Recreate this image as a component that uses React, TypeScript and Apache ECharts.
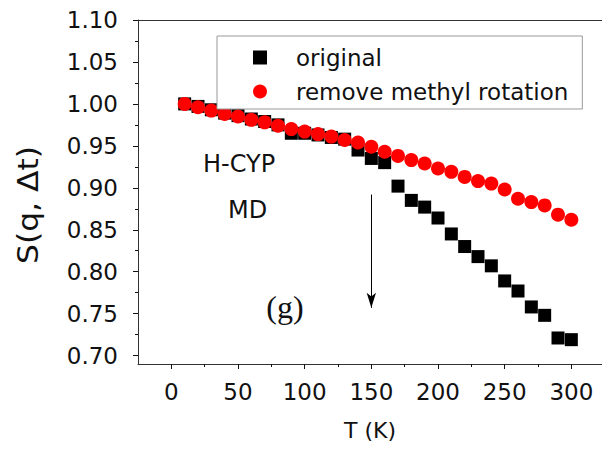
import React, { useEffect, useRef } from "react";
import * as echarts from "echarts";

const temperatures = [10, 20, 30, 40, 50, 60, 70, 80, 90, 100, 110, 120, 130, 140, 150, 160, 170, 180, 190, 200, 210, 220, 230, 240, 250, 260, 270, 280, 290, 300];
const originalValues = [1.0, 0.997, 0.993, 0.989, 0.986, 0.982, 0.979, 0.975, 0.965, 0.965, 0.963, 0.96, 0.958, 0.945, 0.935, 0.93, 0.902, 0.885, 0.877, 0.864, 0.845, 0.83, 0.818, 0.807, 0.789, 0.777, 0.758, 0.748, 0.721, 0.719];
const noMethylValues = [1.0, 0.996, 0.992, 0.988, 0.985, 0.981, 0.978, 0.974, 0.97, 0.967, 0.964, 0.961, 0.957, 0.954, 0.949, 0.943, 0.938, 0.933, 0.929, 0.923, 0.919, 0.913, 0.908, 0.905, 0.898, 0.887, 0.883, 0.879, 0.868, 0.862];
const xMajorTicks = [0, 50, 100, 150, 200, 250, 300];
const xMinorTicks = [25, 75, 125, 175, 225, 275];
const yMajorTicks = [0.7, 0.75, 0.8, 0.85, 0.9, 0.95, 1.0, 1.05, 1.1];
const yMinorTicks = [0.725, 0.775, 0.825, 0.875, 0.925, 0.975, 1.025, 1.075];
const arrowStart = [150, 0.892];
const arrowEnd = [150, 0.757];
const seriesNames = ["original", "remove methyl rotation"];

const SANS = "DejaVu Sans";
const X_MIN = -25;
const X_MAX = 323;
const Y_MIN = 0.69;
const Y_MAX = 1.1;
const AXIS_COLOR = "#333";

export default function App() {
  const ref = useRef<HTMLDivElement>(null);
  useEffect(() => {
    if (!ref.current) return;
    const chart = echarts.init(ref.current, undefined, { renderer: "svg" });
    const hidden = { show: false };
    chart.setOption({
      animation: false,
      backgroundColor: "#fff",
      grid: { left: 138, right: 0, top: 20, bottom: 86, containLabel: false },
      legend: {
        data: [
          { name: seriesNames[0], icon: "rect", itemStyle: { opacity: 1 } },
          { name: seriesNames[1], icon: "circle", itemStyle: { opacity: 1 } },
        ],
        orient: "vertical",
        left: 217,
        top: 36,
        padding: [10, 14, 6, 36],
        itemWidth: 14,
        itemHeight: 14,
        itemGap: 11,
        borderColor: "#999",
        borderWidth: 1,
        backgroundColor: "#fff",
        textStyle: { fontFamily: SANS, fontSize: 23, color: "#111", lineHeight: 22, padding: [0, 0, 0, 24] },
      },
      xAxis: [
        {
          type: "value",
          position: "bottom",
          min: X_MIN,
          max: X_MAX,
          name: "T (K)",
          nameLocation: "middle",
          nameGap: 55,
          nameTextStyle: { fontFamily: SANS, fontSize: 22, color: "#111" },
          axisLine: { show: true, onZero: false, lineStyle: { color: AXIS_COLOR, width: 1 } },
          axisTick: { show: true, customValues: xMajorTicks, length: 5, lineStyle: { color: "#111" } },
          axisLabel: { customValues: xMajorTicks, margin: 16, fontFamily: SANS, fontSize: 23, color: "#111" },
          splitLine: hidden,
        },
        {
          type: "value",
          position: "bottom",
          min: X_MIN,
          max: X_MAX,
          axisLine: { show: false, onZero: false },
          axisTick: { show: true, customValues: xMinorTicks, length: 3, lineStyle: { color: "#111" } },
          axisLabel: hidden,
          splitLine: hidden,
        },
        {
          type: "value",
          position: "top",
          min: X_MIN,
          max: X_MAX,
          axisLine: { show: true, onZero: false, lineStyle: { color: AXIS_COLOR, width: 1 } },
          axisTick: hidden,
          axisLabel: hidden,
          splitLine: hidden,
        },
      ],
      yAxis: [
        {
          type: "value",
          position: "left",
          min: Y_MIN,
          max: Y_MAX,
          axisLine: { show: true, onZero: false, lineStyle: { color: AXIS_COLOR, width: 1 } },
          axisTick: { show: true, customValues: yMajorTicks, length: 5, lineStyle: { color: "#111" } },
          axisLabel: {
            customValues: yMajorTicks,
            margin: 20,
            fontFamily: SANS,
            fontSize: 23,
            color: "#111",
            formatter: (v: number) => v.toFixed(2),
          },
          splitLine: hidden,
        },
        {
          type: "value",
          position: "left",
          min: Y_MIN,
          max: Y_MAX,
          axisLine: { show: false, onZero: false },
          axisTick: { show: true, customValues: yMinorTicks, length: 3, lineStyle: { color: "#111" } },
          axisLabel: hidden,
          splitLine: hidden,
        },
      ],
      series: [
        {
          name: seriesNames[0],
          type: "scatter",
          xAxisIndex: 0,
          yAxisIndex: 0,
          symbol: "rect",
          symbolSize: 13,
          itemStyle: { color: "#000", opacity: 1 },
          data: temperatures.map((t, i) => [t, originalValues[i]]),
          markLine: {
            silent: true,
            symbol: ["none", "arrow"],
            symbolSize: [7, 15],
            label: { show: false },
            lineStyle: { color: "#000", width: 1, type: "solid" },
            data: [[{ coord: arrowStart }, { coord: arrowEnd }]],
          },
        },
        {
          name: seriesNames[1],
          type: "scatter",
          xAxisIndex: 0,
          yAxisIndex: 0,
          symbol: "circle",
          symbolSize: 14,
          itemStyle: { color: "#ff0000", opacity: 1 },
          data: temperatures.map((t, i) => [t, noMethylValues[i]]),
        },
      ],
      graphic: [
        {
          type: "text",
          x: 28,
          y: 205,
          rotation: Math.PI / 2,
          scaleX: 1.12,
          style: {
            text: "S(q, Δt)",
            fontFamily: SANS,
            fontSize: 28,
            fill: "#111",
            align: "center",
            verticalAlign: "middle",
          },
        },
        {
          type: "text",
          x: 203,
          y: 164,
          style: { text: "H-CYP", fontFamily: SANS, fontSize: 24, fill: "#111", align: "left", verticalAlign: "middle" },
        },
        {
          type: "text",
          x: 228,
          y: 210,
          style: { text: "MD", fontFamily: SANS, fontSize: 24, fill: "#111", align: "left", verticalAlign: "middle" },
        },
        {
          type: "text",
          x: 285,
          y: 307,
          style: { text: "(g)", fontFamily: "Liberation Serif", fontSize: 32, fill: "#111", align: "center", verticalAlign: "middle" },
        },
      ],
    });
    return () => chart.dispose();
  }, []);
  return <div ref={ref} style={{ position: "fixed", left: 0, top: 0, width: 602, height: 450 }} />;
}
